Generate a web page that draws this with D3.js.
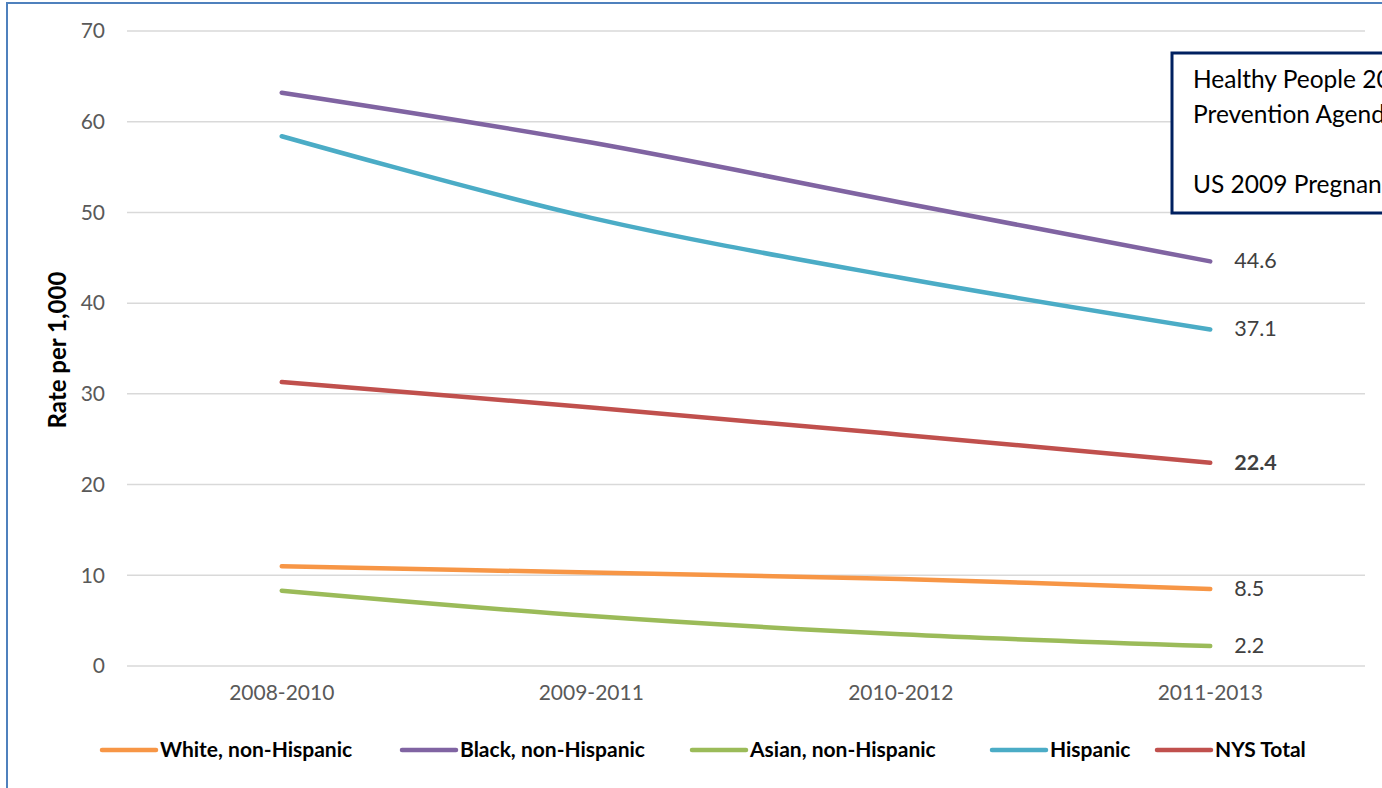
<!DOCTYPE html>
<html><head><meta charset="utf-8">
<script src="https://cdn.jsdelivr.net/npm/d3@7"></script>
<style>
html,body{margin:0;padding:0;background:#fff;overflow:hidden;}
svg{display:block;font-family:Lato,"Open Sans",sans-serif;}
</style></head>
<body>
<svg id="chart" width="1382" height="788"></svg>
<script>
const categories = ["2008-2010","2009-2011","2010-2012","2011-2013"];
const seriesNames = ["White, non-Hispanic","Black, non-Hispanic","Asian, non-Hispanic","Hispanic","NYS Total"];
const white = [11.0, 10.3, 9.6, 8.5];
const black = [63.2, 57.7, 51.1, 44.6];
const asian = [8.3, 5.5, 3.5, 2.2];
const hispanic = [58.4, 49.4, 42.8, 37.1];
const nysTotal = [31.3, 28.5, 25.5, 22.4];
const yTicks = [0,10,20,30,40,50,60,70];
const colors = ["#F79646","#8064A2","#9BBB59","#4BACC6","#C0504D"];
const boxLines = ["Healthy People 2020 Target: 36.2","Prevention Agenda 2017 Objective: 25.6","","US 2009 Pregnancy Rate: 38.0"];

const seriesData = [white, black, asian, hispanic, nysTotal];
const svg = d3.select("#chart");

// outer border
svg.append("rect").attr("x",7).attr("y",3).attr("width",1400).attr("height",800)
  .attr("fill","#fff").attr("stroke","#4F81BD").attr("stroke-width",2);

const x = d3.scaleBand().domain(categories).range([127,1365]);
const y = d3.scaleLinear().domain([0,70]).range([666,31]);

// gridlines
svg.append("g").selectAll("line").data(yTicks).join("line")
  .attr("x1",127).attr("x2",1365).attr("y1",d=>y(d)).attr("y2",d=>y(d))
  .attr("stroke","#D9D9D9").attr("stroke-width",1.5);

// y axis
const yAxis = svg.append("g").attr("transform","translate(127,0)")
  .call(d3.axisLeft(y).tickValues(yTicks).tickSize(0).tickPadding(22));
yAxis.select(".domain").remove();
yAxis.selectAll("text").attr("fill","#595959").style("font-size","21px").style("font-family","Lato, sans-serif");

// x axis
const xAxis = svg.append("g").attr("transform","translate(0,666)")
  .call(d3.axisBottom(x).tickSize(0).tickPadding(19));
xAxis.select(".domain").remove();
xAxis.selectAll("text").attr("fill","#595959").style("font-size","21px").style("font-family","Lato, sans-serif");

// y title
svg.append("text").attr("transform","translate(66,350) rotate(-90)")
  .attr("text-anchor","middle").attr("font-weight","bold").attr("font-size","24px")
  .attr("fill","#000").text("Rate per 1,000");

// lines
const line = d3.line().x((d,i)=>x(categories[i])+x.bandwidth()/2).y(d=>y(d))
  .curve(d3.curveCatmullRom.alpha(0.5));
seriesData.forEach((s,k)=>{
  svg.append("path").datum(s).attr("d",line).attr("fill","none")
    .attr("stroke",colors[k]).attr("stroke-width",4.5).attr("stroke-linecap","round");
  const last = s[s.length-1];
  svg.append("text").attr("x",x(categories[3])+x.bandwidth()/2+24).attr("y",y(last)+7)
    .attr("font-size","21.5px").attr("fill","#404040")
    .attr("font-weight", k===4 ? "bold" : "normal")
    .text(last.toFixed(1));
});

// annotation box
const box = svg.append("g");
box.append("rect").attr("x",1172).attr("y",53).attr("width",260).attr("height",160)
  .attr("fill","#fff").attr("stroke","#002060").attr("stroke-width",3);
boxLines.forEach((t,i)=>{
  box.append("text").attr("x",1193).attr("y",88+i*35).attr("font-size","24.5px")
    .attr("fill","#000").text(t);
});

// legend
const legendX = [100,400,690,990,1155];
const lg = svg.append("g");
seriesNames.forEach((n,k)=>{
  lg.append("line").attr("x1",legendX[k]+2).attr("x2",legendX[k]+56)
    .attr("y1",750).attr("y2",750).attr("stroke",colors[k]).attr("stroke-width",4.5)
    .attr("stroke-linecap","round");
  lg.append("text").attr("x",legendX[k]+60).attr("y",757).attr("font-size","21px")
    .attr("font-weight","bold").attr("fill","#000").text(n);
});
</script>
</body></html>
